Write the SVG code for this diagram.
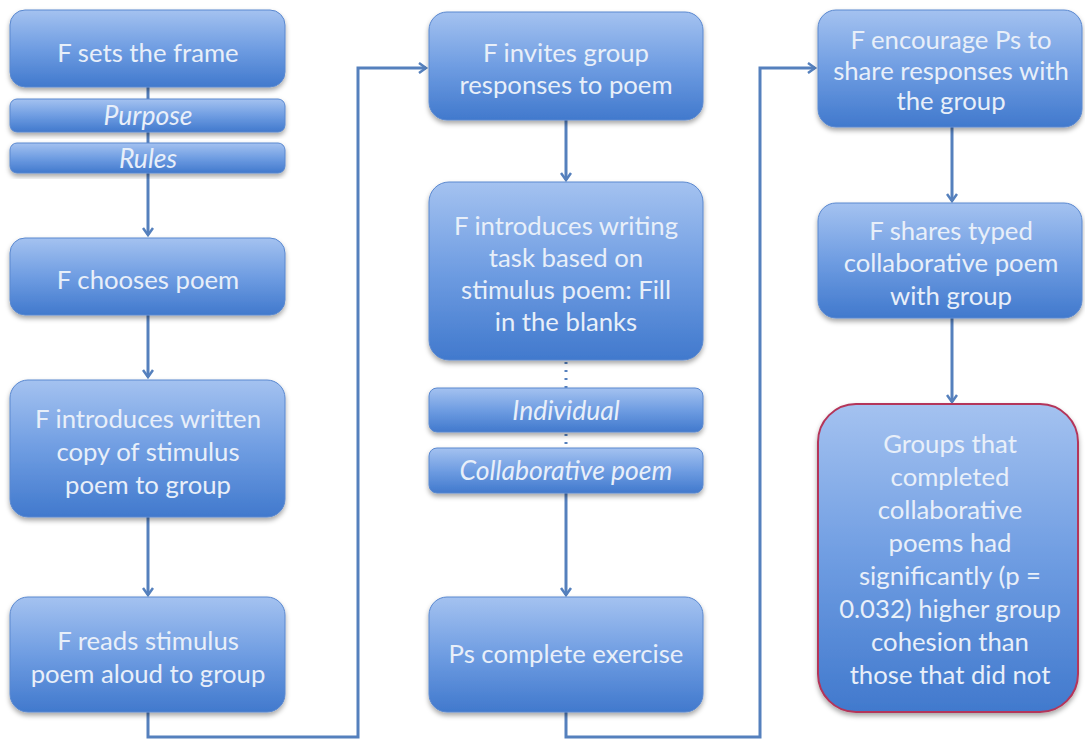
<svg xmlns="http://www.w3.org/2000/svg" width="1085" height="740" viewBox="0 0 1085 740">
<defs>
<linearGradient id="g" x1="0" y1="0" x2="0" y2="1">
<stop offset="0" stop-color="#a4c2f0"/>
<stop offset="0.5" stop-color="#6f9de2"/>
<stop offset="1" stop-color="#4179cd"/>
</linearGradient>
<filter id="sh" x="-10%" y="-10%" width="120%" height="130%">
<feDropShadow dx="0" dy="3" stdDeviation="2.5" flood-color="#000" flood-opacity="0.35"/>
</filter>
<marker id="ah" markerWidth="12" markerHeight="12" refX="9" refY="6" orient="auto" markerUnits="userSpaceOnUse">
<path d="M2,1 L9,6 L2,11" fill="none" stroke="#5580bd" stroke-width="2.5"/>
</marker>
</defs>
<style>
.box{fill:url(#g);stroke:#5a88cf;stroke-width:1;filter:url(#sh)}
.res{fill:url(#g);stroke:#b4365a;stroke-width:2;filter:url(#sh)}
.t{font-family:Lato,"Open Sans",sans-serif;font-size:25.7px;fill:#e8eff9;text-anchor:middle}
.i{font-family:Lato,"Open Sans",sans-serif;font-size:26.5px;font-style:italic;fill:#e8eff9;text-anchor:middle}
.c{fill:none;stroke:#5580bd;stroke-width:3}
.d{fill:none;stroke:#5580bd;stroke-width:3;stroke-dasharray:2,6}
</style>
<rect width="1085" height="740" fill="#ffffff"/>
<g id="connectors">
<path class="c" d="M148,87 V235" marker-end="url(#ah)"/>
<path class="c" d="M148,315 V377" marker-end="url(#ah)"/>
<path class="c" d="M148,517 V595" marker-end="url(#ah)"/>
<path class="c" d="M148,712 V737 H358 V68 H426" marker-end="url(#ah)"/>
<path class="c" d="M566,120 V180" marker-end="url(#ah)"/>
<path class="d" d="M566,362 V448"/>
<path class="c" d="M566,493 V595" marker-end="url(#ah)"/>
<path class="c" d="M566,712 V737 H760 V68 H815" marker-end="url(#ah)"/>
<path class="c" d="M952,127 V201" marker-end="url(#ah)"/>
<path class="c" d="M952,318 V402" marker-end="url(#ah)"/>
</g>
<g id="n1"><rect class="box" x="10" y="10" width="275" height="77" rx="15"/><text class="t" x="148" y="62">F sets the frame</text></g>
<g id="n1a"><rect class="box" x="10" y="99" width="275" height="33" rx="7"/><text class="i" x="148" y="125">Purpose</text></g>
<g id="n1b"><rect class="box" x="10" y="143" width="275" height="30" rx="7"/><text class="i" x="148" y="168">Rules</text></g>
<g id="n2"><rect class="box" x="10" y="238" width="275" height="77" rx="15"/><text class="t" x="148" y="289">F chooses poem</text></g>
<g id="n3"><rect class="box" x="10" y="380" width="275" height="137" rx="18"/><text class="t" x="148" y="428">F introduces written</text><text class="t" x="148" y="461">copy of stimulus</text><text class="t" x="148" y="494">poem to group</text></g>
<g id="n4"><rect class="box" x="10" y="597" width="275" height="115" rx="18"/><text class="t" x="148" y="650">F reads stimulus</text><text class="t" x="148" y="683">poem aloud to group</text></g>
<g id="n5"><rect class="box" x="429" y="12" width="274" height="108" rx="18"/><text class="t" x="566" y="62">F invites group</text><text class="t" x="566" y="94">responses to poem</text></g>
<g id="n6"><rect class="box" x="429" y="182" width="274" height="178" rx="20"/><text class="t" x="566" y="235">F introduces writing</text><text class="t" x="566" y="267">task based on</text><text class="t" x="566" y="299">stimulus poem: Fill</text><text class="t" x="566" y="331">in the blanks</text></g>
<g id="n6a"><rect class="box" x="429" y="388" width="274" height="44" rx="8"/><text class="i" x="566" y="420">Individual</text></g>
<g id="n6b"><rect class="box" x="429" y="448" width="274" height="45" rx="8"/><text class="i" x="566" y="480">Collaborative poem</text></g>
<g id="n7"><rect class="box" x="429" y="597" width="274" height="115" rx="18"/><text class="t" x="566" y="663">Ps complete exercise</text></g>
<g id="n8"><rect class="box" x="818" y="10" width="264" height="117" rx="18"/><text class="t" x="951" y="49">F encourage Ps to</text><text class="t" x="951" y="80">share responses with</text><text class="t" x="951" y="110">the group</text></g>
<g id="n9"><rect class="box" x="818" y="203" width="264" height="115" rx="18"/><text class="t" x="951" y="240">F shares typed</text><text class="t" x="951" y="272">collaborative poem</text><text class="t" x="951" y="305">with group</text></g>
<g id="n10"><rect class="res" x="818" y="404" width="260" height="308" rx="38"/><text class="t" x="950" y="453">Groups that</text><text class="t" x="950" y="486">completed</text><text class="t" x="950" y="519">collaborative</text><text class="t" x="950" y="552">poems had</text><text class="t" x="950" y="585">significantly (p =</text><text class="t" x="950" y="618">0.032) higher group</text><text class="t" x="950" y="651">cohesion than</text><text class="t" x="950" y="684">those that did not</text></g>
</svg>
